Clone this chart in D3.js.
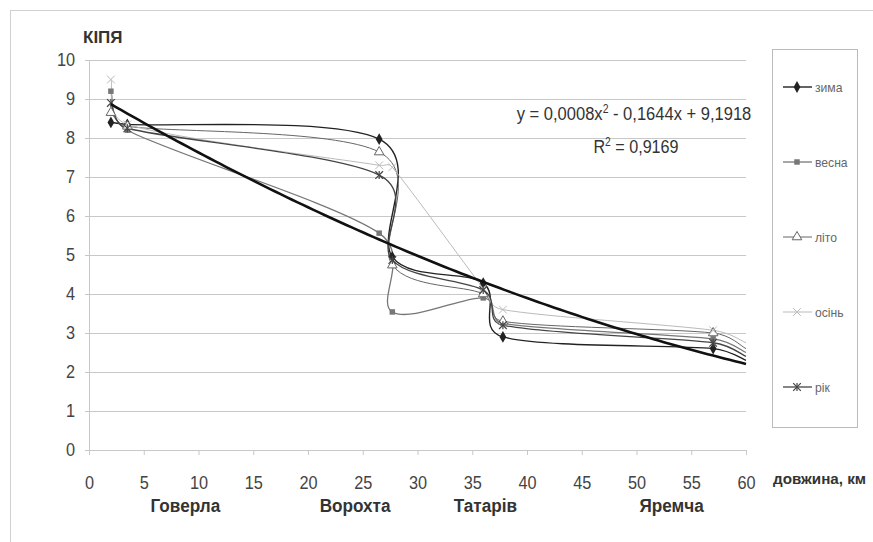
<!DOCTYPE html>
<html><head><meta charset="utf-8">
<script src="https://cdn.jsdelivr.net/npm/d3@7"></script>
<style>
body{margin:0;background:#fff}
text{font-family:"Liberation Sans Narrow","Arial Narrow","Liberation Sans",Arial,sans-serif}
</style>
</head><body><svg id="c" width="873" height="542"></svg>
<script>
// ---- data ----
const kmPoints = [2, 3.5, 26.5, 27.7, 36, 37.8, 57, 60];
const zyma  = [8.4, 8.35, 7.97, 4.95, 4.28, 2.9, 2.6, 2.3];
const vesna = [9.2, 8.2, 5.56, 3.54, 3.9, 3.25, 2.85, 2.5];
const lito  = [8.65, 8.3, 7.64, 4.74, 4.0, 3.3, 3.0, 2.6];
const osin  = [9.5, 8.35, 7.3, 7.25, 4.15, 3.6, 3.07, 2.75];
const rik   = [8.9, 8.25, 7.05, 4.87, 4.1, 3.2, 2.75, 2.4];
const seriesNames = ["зима", "весна", "літо", "осінь", "рік"];
const trendCoef = [0.0008, -0.1644, 9.1918];
const trendRange = [2, 60];
const xTicks = [0, 5, 10, 15, 20, 25, 30, 35, 40, 45, 50, 55, 60];
const yTicks = [0, 1, 2, 3, 4, 5, 6, 7, 8, 9, 10];
const places = ["Говерла", "Ворохта", "Татарів", "Яремча"];
const placeKm = [8.8, 24.3, 36.2, 53.2];

// ---- setup ----
const svg = d3.select("#c");
const x = d3.scaleLinear().domain([0, 60]).range([89, 746]);
const y = d3.scaleLinear().domain([0, 10]).range([450, 60]);

function condense(sel, f) {
  sel.each(function () {
    const L = this.getComputedTextLength();
    this.setAttribute("textLength", (L * f).toFixed(2));
    this.setAttribute("lengthAdjust", "spacingAndGlyphs");
  });
}

// spreadsheet-style smoothed line (Bezier, tangent clamped to half segment)
function curveSmooth(context) {
  return {
    areaStart() {}, areaEnd() {},
    lineStart() { this._p = []; },
    point(px, py) { this._p.push([+px, +py]); },
    lineEnd() {
      const p = this._p, n = p.length;
      if (!n) return;
      const dist = (a, b) => Math.hypot(a[0] - b[0], a[1] - b[1]);
      context.moveTo(p[0][0], p[0][1]);
      for (let i = 0; i < n - 1; i++) {
        const P0 = p[Math.max(0, i - 1)], P1 = p[i], P2 = p[i + 1], P3 = p[Math.min(n - 1, i + 2)];
        const d12 = dist(P1, P2), d02 = dist(P0, P2), d13 = dist(P1, P3);
        let f0 = 1 / 6, f3 = 1 / 6;
        if (d02 / 6 >= d12 / 2 && d02 > 0) f0 = d12 / 2 / d02;
        if (d13 / 6 >= d12 / 2 && d13 > 0) f3 = d12 / 2 / d13;
        context.bezierCurveTo(
          P1[0] + (P2[0] - P0[0]) * f0, P1[1] + (P2[1] - P0[1]) * f0,
          P2[0] - (P3[0] - P1[0]) * f3, P2[1] - (P3[1] - P1[1]) * f3,
          P2[0], P2[1]);
      }
    }
  };
}

// outer frame
svg.append("rect").attr("x", 10.5).attr("y", 10.5).attr("width", 900).attr("height", 600)
  .attr("fill", "none").attr("stroke", "#d0d0d0");

// gridlines
svg.append("g").attr("transform", "translate(89,0)")
  .call(d3.axisLeft(y).tickValues(yTicks.filter(d => d > 0)).tickSize(-657).tickFormat(""))
  .call(g => { g.select(".domain").remove(); g.selectAll("line").attr("stroke", "#c8c8c8"); });

// y axis
const ya = svg.append("g").attr("transform", "translate(89,0)")
  .call(d3.axisLeft(y).tickValues(yTicks).tickSize(4).tickPadding(10).tickFormat(d3.format("d")));
ya.select(".domain").attr("stroke", "#c8c8c8");
ya.selectAll("line").attr("stroke", "#c8c8c8");
ya.selectAll("text").attr("font-size", 18.5).attr("fill", "#444").call(condense, 0.88);

// x axis
const xa = svg.append("g").attr("transform", "translate(0,450)")
  .call(d3.axisBottom(x).tickValues(xTicks).tickSize(5).tickPadding(21).tickFormat(d3.format("d")));
xa.select(".domain").attr("stroke", "#c8c8c8");
xa.selectAll("line").attr("stroke", "#c8c8c8");
xa.selectAll("text").attr("font-size", 18.5).attr("fill", "#444").call(condense, 0.88);

// place labels
svg.append("g").selectAll("text").data(places).join("text")
  .attr("x", (d, i) => x(placeKm[i])).attr("y", 512)
  .attr("text-anchor", "middle").attr("font-size", 17.5).attr("font-weight", "bold").attr("fill", "#333")
  .text(d => d).call(condense, 0.98);

// axis titles
svg.append("text").attr("x", 83).attr("y", 43).attr("font-size", 17).attr("font-weight", "bold")
  .attr("fill", "#333").text("КІПЯ");
svg.append("text").attr("x", 773).attr("y", 484).attr("font-size", 15.5).attr("font-weight", "bold")
  .attr("fill", "#333").text("довжина, км").call(condense, 0.98);

// series
const series = [
  {name: seriesNames[0], vals: zyma,  color: "#222", w: 1.4, marker: "diamond"},
  {name: seriesNames[1], vals: vesna, color: "#777", w: 1.3, marker: "square"},
  {name: seriesNames[2], vals: lito,  color: "#666", w: 1.0, marker: "triangle"},
  {name: seriesNames[3], vals: osin,  color: "#bbb", w: 1.0, marker: "x"},
  {name: seriesNames[4], vals: rik,   color: "#444", w: 1.3, marker: "star"}
];
const line = d3.line().x(d => x(d[0])).y(d => y(d[1])).curve(curveSmooth);

function drawMarker(g, type, cx, cy, color) {
  if (type === "diamond") {
    g.append("path").attr("d", d3.symbol(d3.symbolDiamond, 40)()).attr("transform", `translate(${cx},${cy})`).attr("fill", color);
  } else if (type === "square") {
    g.append("path").attr("d", d3.symbol(d3.symbolSquare, 30)()).attr("transform", `translate(${cx},${cy})`).attr("fill", color);
  } else if (type === "triangle") {
    g.append("path").attr("d", d3.symbol(d3.symbolTriangle, 40)()).attr("transform", `translate(${cx},${cy})`)
      .attr("fill", "#fff").attr("stroke", color).attr("stroke-width", 1);
  } else if (type === "x") {
    g.append("path").attr("d", d3.symbol(d3.symbolX, 40)()).attr("transform", `translate(${cx},${cy})`)
      .attr("fill", "none").attr("stroke", color).attr("stroke-width", 1);
  } else if (type === "star") {
    g.append("path").attr("d", d3.symbol(d3.symbolX, 40)()).attr("transform", `translate(${cx},${cy})`)
      .attr("fill", "none").attr("stroke", color).attr("stroke-width", 1.2);
    g.append("line").attr("x1", cx).attr("x2", cx).attr("y1", cy - 4).attr("y2", cy + 4)
      .attr("stroke", color).attr("stroke-width", 1.2);
  }
}

const sg = svg.append("g");
series.forEach(s => {
  const pts = kmPoints.map((k, i) => [k, s.vals[i]]);
  sg.append("path").attr("d", line(pts)).attr("fill", "none").attr("stroke", s.color).attr("stroke-width", s.w);
});
series.forEach(s => {
  kmPoints.forEach((k, i) => {
    if (i < kmPoints.length - 1) drawMarker(sg, s.marker, x(k), y(s.vals[i]), s.color);
  });
});

// polynomial trendline (from the displayed equation)
const trendPts = d3.range(trendRange[0], trendRange[1] + 0.01, 0.5)
  .map(k => [k, trendCoef[0] * k * k + trendCoef[1] * k + trendCoef[2]]);
svg.append("path").attr("d", d3.line().x(d => x(d[0])).y(d => y(d[1]))(trendPts))
  .attr("fill", "none").attr("stroke", "#111").attr("stroke-width", 2.6);

// equation label
const eqG = svg.append("g").attr("transform", "translate(634,120) scale(0.87,1)");
const eq = eqG.append("text").attr("x", 0).attr("y", 0).attr("text-anchor", "middle")
  .attr("font-size", 19).attr("fill", "#333");
eq.append("tspan").text("y = 0,0008x");
eq.append("tspan").attr("dy", -7).attr("font-size", 12).text("2");
eq.append("tspan").attr("dy", 7).text(" - 0,1644x + 9,1918");
const r2G = svg.append("g").attr("transform", "translate(636,153) scale(0.85,1)");
const r2 = r2G.append("text").attr("x", 0).attr("y", 0).attr("text-anchor", "middle")
  .attr("font-size", 19).attr("fill", "#333");
r2.append("tspan").text("R");
r2.append("tspan").attr("dy", -7).attr("font-size", 12).text("2");
r2.append("tspan").attr("dy", 7).text(" = 0,9169");

// legend
svg.append("rect").attr("x", 772.5).attr("y", 49.5).attr("width", 85).attr("height", 378)
  .attr("fill", "#fff").attr("stroke", "#bbb");
const lg = svg.append("g");
series.forEach((s, i) => {
  const ly = 87 + i * 75;
  lg.append("line").attr("x1", 783).attr("x2", 812).attr("y1", ly).attr("y2", ly)
    .attr("stroke", s.color).attr("stroke-width", s.w);
  drawMarker(lg, s.marker, 797, ly, s.color);
  lg.append("text").attr("x", 815).attr("y", ly + 5).attr("font-size", 13.5).attr("fill", "#666")
    .text(s.name).call(condense, 0.9);
});
</script>
</body></html>
